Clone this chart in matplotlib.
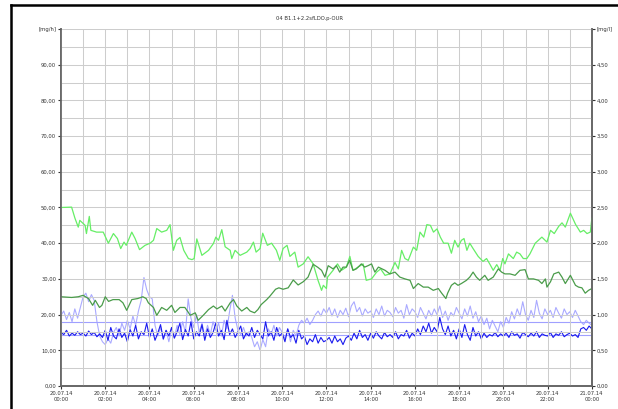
import numpy as np
import matplotlib
matplotlib.use("Agg")
from matplotlib import pyplot as plt
from matplotlib.lines import Line2D

# light green series [mg/h]
t_lg = [0.0, 0.48, 0.63, 0.78, 0.85, 1.09, 1.15, 1.28, 1.35, 1.61, 1.91, 2.14, 2.37, 2.55, 2.7, 2.85, 2.95,
        3.2, 3.35, 3.55, 3.8, 4.03, 4.18, 4.33, 4.55, 4.78, 4.93, 5.08, 5.23, 5.38, 5.55, 5.76, 5.92,
        6.02, 6.14, 6.37, 6.67, 6.89, 7.0, 7.12, 7.27, 7.42, 7.65, 7.72, 7.87, 8.1, 8.4, 8.55, 8.7, 8.82,
        9.0, 9.12, 9.33, 9.52, 9.74, 9.89, 10.04, 10.22, 10.35, 10.57, 10.72, 10.95, 11.17, 11.4, 11.62,
        11.78, 11.86, 12.0, 12.05, 12.3, 12.5, 12.68, 12.9, 13.06, 13.2, 13.43, 13.66, 13.8, 14.04, 14.27,
        14.45, 14.65, 14.87, 15.1, 15.25, 15.4, 15.55, 15.7, 15.93, 16.08, 16.23, 16.4, 16.54, 16.7, 16.84,
        17.0, 17.15, 17.3, 17.5, 17.65, 17.8, 17.95, 18.1, 18.22, 18.35, 18.48, 18.63, 18.86, 19.08, 19.24,
        19.4, 19.54, 19.7, 19.85, 19.97, 20.07, 20.23, 20.45, 20.6, 20.75, 20.9, 21.06, 21.2, 21.44, 21.74,
        21.97, 22.13, 22.3, 22.5, 22.65, 22.8, 23.03, 23.26, 23.48, 23.63, 23.78, 23.93, 24.0]
v_lg = [50.0, 50.1, 47.0, 44.5, 46.4, 45.0, 42.7, 47.5, 43.6, 43.1, 43.1, 40.0, 42.7, 41.3, 38.5, 40.3, 39.4,
        43.1, 41.3, 38.2, 39.4, 40.0, 40.8, 44.1, 43.1, 43.6, 45.2, 38.0, 40.8, 41.6, 38.0, 35.7, 35.4,
        35.7, 41.2, 36.6, 38.0, 39.9, 41.7, 40.8, 43.8, 39.0, 38.0, 35.7, 38.0, 36.6, 37.5, 38.5, 40.3, 37.5,
        38.5, 42.8, 39.4, 40.0, 38.0, 35.2, 38.5, 39.4, 36.3, 37.5, 33.3, 34.2, 36.2, 34.2, 29.6,
        26.8, 28.2, 27.3, 30.5, 32.4, 34.2, 32.4, 33.3, 36.3, 32.4, 33.3, 34.2, 29.6, 30.0, 31.9,
        32.8, 31.0, 31.4, 34.6, 32.8, 38.0, 35.7, 35.2, 38.9, 38.0, 43.1, 41.7, 45.2, 45.0, 43.1,
        44.0, 41.7, 40.0, 40.0, 37.2, 40.8, 38.9, 40.8, 41.3, 38.0, 40.0, 38.5, 36.3, 34.9, 35.7,
        34.0, 32.4, 34.0, 32.4, 35.7, 34.2, 37.0, 35.7, 37.5, 37.0, 35.7, 35.7, 37.0, 40.0, 41.7,
        40.3, 43.6, 42.7, 44.7, 45.7, 44.5, 48.4, 45.3, 43.1, 43.6, 42.7, 43.1, 47.0]

# dark green series [mg/h]
t_dg = [0.0, 0.48, 0.78, 1.0, 1.24, 1.43, 1.55, 1.74, 1.85, 2.0, 2.15, 2.35, 2.63, 2.8, 2.97, 3.2, 3.47,
        3.7, 3.85, 3.95, 4.18, 4.33, 4.55, 4.78, 5.0, 5.15, 5.38, 5.6, 5.76, 5.84, 6.07, 6.2, 6.43, 6.67,
        6.89, 7.05, 7.27, 7.42, 7.65, 7.8, 7.95, 8.17, 8.4, 8.55, 8.75, 8.9, 9.05, 9.3, 9.45, 9.7, 9.85,
        10.04, 10.27, 10.5, 10.72, 10.95, 11.17, 11.4, 11.62, 11.78, 11.93, 12.08, 12.3, 12.45, 12.6,
        12.75, 12.9, 13.05, 13.2, 13.35, 13.58, 13.73, 13.88, 14.04, 14.19, 14.35, 14.65, 14.87, 15.1,
        15.32, 15.55, 15.78, 15.93, 16.15, 16.38, 16.6, 16.83, 17.06, 17.21, 17.4, 17.48, 17.65, 17.8,
        17.95, 18.1, 18.33, 18.48, 18.63, 18.78, 18.93, 19.16, 19.31, 19.54, 19.77, 19.92, 20.07, 20.3,
        20.53, 20.75, 20.98, 21.13, 21.36, 21.59, 21.74, 21.9, 21.97, 22.13, 22.28, 22.5, 22.65, 22.8,
        23.03, 23.26, 23.4, 23.55, 23.7, 23.85, 24.0]
v_dg = [25.0, 24.8, 25.0, 25.4, 24.5, 22.6, 24.0, 22.0, 22.6, 25.0, 23.7, 24.2, 24.2, 23.3, 21.2, 24.2, 24.5,
        25.0, 24.5, 23.3, 22.0, 19.8, 22.0, 21.2, 22.6, 20.6, 22.0, 22.0, 20.6, 19.8, 20.5, 18.4, 19.8, 21.4,
        22.4, 21.6, 22.4, 21.0, 23.3, 24.2, 22.4, 21.0, 22.0, 21.0, 20.5, 21.4, 22.8, 24.2, 25.2, 27.1, 27.5,
        27.1, 27.5, 29.7, 28.3, 29.2, 30.5, 34.1, 33.2, 32.4, 30.5, 33.7, 32.8, 33.7, 31.9,
        33.3, 33.3, 35.2, 32.4, 32.8, 34.2, 33.3, 33.7, 34.2, 31.9, 33.3, 32.4, 31.4, 31.9,
        30.5, 30.0, 29.6, 27.3, 28.7, 27.7, 27.7, 26.8, 27.3, 26.0, 24.5, 26.0, 28.2, 28.9,
        28.2, 28.7, 29.6, 30.5, 31.9, 30.5, 29.6, 31.0, 29.6, 30.5, 32.8, 31.9, 31.4, 31.4,
        31.0, 32.4, 32.6, 30.0, 30.0, 29.6, 28.7, 30.0, 27.7, 29.2, 31.4, 31.9, 30.5, 28.7,
        31.0, 28.2, 27.7, 27.5, 26.0, 26.8, 27.3]

# light blue series [mg/l], every 7.5 min
lb = [0.99, 1.05, 0.93, 1.03, 0.90, 1.08, 0.95, 1.10,
      1.25, 1.30, 1.18, 1.28, 1.20, 0.90, 0.70, 0.62,
      0.58, 0.66, 0.60, 0.75, 0.82, 0.70, 0.88, 0.78,
      0.92, 0.80, 0.98, 0.85, 1.05, 1.20, 1.52, 1.35,
      1.25, 1.22, 0.85, 0.70, 0.82, 0.65, 0.78, 0.62,
      0.80, 0.68, 0.85, 0.72, 0.90, 0.75, 1.22, 0.95,
      0.82, 1.00, 0.75, 0.88, 0.70, 0.85, 0.72, 0.90,
      0.78, 0.88, 0.70, 0.92, 0.80, 1.05, 1.27, 0.95,
      0.78, 0.72, 0.82, 0.70, 0.76, 0.68, 0.55, 0.62,
      0.50, 0.65, 0.55, 0.80, 0.72, 0.85, 0.70, 0.82,
      0.75, 0.66, 0.80, 0.62, 0.78, 0.70, 0.85, 0.92,
      0.88, 0.95, 0.86, 0.92, 1.00, 1.05, 0.98, 1.08,
      1.02, 1.10, 0.98, 1.08, 0.96, 1.06, 1.00, 1.09,
      0.97, 1.12, 1.18, 1.04, 1.10, 0.98, 1.08, 1.02,
      1.05, 0.96, 1.08, 1.00, 1.12, 0.98, 1.06, 1.03,
      0.97, 1.10, 1.02, 1.06, 0.95, 1.14, 1.00, 1.08,
      1.04, 0.96, 1.10, 1.02, 0.94, 1.06, 0.98, 1.08,
      1.00, 1.12, 0.96, 1.05, 0.92, 1.03, 0.98, 1.10,
      1.02, 0.94, 1.08, 0.98, 1.12, 0.95, 1.04, 0.90,
      0.98, 0.86, 0.95, 0.80, 0.92, 0.84, 0.76, 0.90,
      0.82, 0.96, 0.88, 1.04, 0.94, 1.08, 0.98, 1.18,
      1.00, 0.92, 1.06, 0.96, 1.20, 1.02, 0.94, 1.08,
      1.00, 1.06, 0.96, 1.10, 1.02, 0.95, 1.08, 1.00,
      1.04, 0.96, 1.06, 0.98, 0.90, 0.86, 0.92, 0.88,
      0.85]

# dark blue series [mg/l], every 7.5 min
db = [0.75, 0.72, 0.78, 0.70, 0.74, 0.71, 0.76, 0.72,
      0.74, 0.70, 0.77, 0.72, 0.75, 0.69, 0.73, 0.68,
      0.78, 0.64, 0.82, 0.70, 0.66, 0.80, 0.68, 0.74,
      0.62, 0.79, 0.70, 0.85, 0.66, 0.76, 0.72, 0.88,
      0.68, 0.80, 0.64, 0.74, 0.86, 0.66, 0.78, 0.70,
      0.82, 0.67, 0.76, 0.88, 0.65, 0.79, 0.70, 0.90,
      0.66, 0.76, 0.70, 0.86, 0.64, 0.80, 0.68, 0.75,
      0.88, 0.70, 0.78, 0.65, 0.92, 0.72, 0.80, 0.68,
      0.76, 0.84, 0.66, 0.74, 0.70, 0.82, 0.68, 0.78,
      0.72, 0.66, 0.90, 0.70, 0.76, 0.64, 0.82, 0.70,
      0.74, 0.62, 0.80, 0.68, 0.72, 0.60, 0.78, 0.66,
      0.70, 0.58, 0.66, 0.62, 0.72, 0.60, 0.68, 0.62,
      0.64, 0.68, 0.60, 0.70, 0.62, 0.66, 0.58, 0.67,
      0.70, 0.64, 0.74, 0.66, 0.78, 0.68, 0.72, 0.64,
      0.74, 0.67, 0.76, 0.70, 0.66, 0.75, 0.69, 0.72,
      0.68, 0.76, 0.66, 0.72, 0.70, 0.78, 0.67, 0.74,
      0.70, 0.80, 0.72, 0.84, 0.76, 0.88, 0.74, 0.82,
      0.76, 0.96, 0.80, 0.72, 0.84, 0.70, 0.78, 0.66,
      0.80, 0.68, 0.86, 0.72, 0.64, 0.82, 0.70, 0.76,
      0.66, 0.74, 0.68, 0.72, 0.70, 0.75, 0.69, 0.73,
      0.70, 0.74, 0.68, 0.76, 0.71, 0.73, 0.67, 0.75,
      0.72, 0.69, 0.74, 0.70, 0.76, 0.68, 0.73, 0.71,
      0.70, 0.75, 0.68, 0.73, 0.71, 0.76, 0.69, 0.72,
      0.74, 0.70, 0.72, 0.68, 0.80, 0.82, 0.78, 0.84,
      0.80]

limits = [0.9, 0.72]  # [mg/l]

x_labels = ["20.07.14\n00:00", "20.07.14\n02:00", "20.07.14\n04:00", "20.07.14\n06:00",
            "20.07.14\n08:00", "20.07.14\n10:00", "20.07.14\n12:00", "20.07.14\n14:00",
            "20.07.14\n16:00", "20.07.14\n18:00", "20.07.14\n20:00", "20.07.14\n22:00",
            "21.07.14\n00:00"]
left_labels = ["0,00", "10,00", "20,00", "30,00", "40,00", "50,00", "60,00", "70,00", "80,00", "90,00", "[mg/h]"]
right_labels = ["0,00", "0,50", "1,00", "1,50", "2,00", "2,50", "3,00", "3,50", "4,00", "4,50", "[mg/l]"]

t_blue = np.arange(len(lb)) * 0.125

fig = plt.figure(figsize=(6.18, 4.09), dpi=100)
ax = fig.add_axes([0.0987, 0.0562, 0.859, 0.873])
ax2 = ax.twinx()

ax.set_xlim(0, 24)
ax.set_ylim(0, 100)
ax2.set_ylim(0, 5)

ax.set_xticks(np.arange(0, 25, 1), minor=True)
ax.set_yticks(np.arange(0, 101, 5), minor=True)
ax.grid(which='both', color='#cdcdcd', lw=0.75)
ax.set_axisbelow(True)

ax.set_xticks(np.arange(0, 25, 2))
ax.set_xticklabels(x_labels)
ax.set_yticks(np.arange(0, 101, 10))
ax.set_yticklabels(left_labels)
ax2.set_yticks(np.arange(0, 5.01, 0.5))
ax2.set_yticklabels(right_labels)

for a in (ax, ax2):
    a.tick_params(which='major', length=2.5, width=0.8, color='#333333', labelsize=3.8,
                  labelcolor='#333333', pad=1)
    a.tick_params(which='minor', length=0)
    a.spines['top'].set_visible(False)
    for s in ['left', 'right', 'bottom']:
        a.spines[s].set_color('#666666')
        a.spines[s].set_linewidth(1.2)

# lines
ax2.plot(t_blue, lb, color='#aaaaff', lw=0.8)
for lim in limits:
    ax2.axhline(lim, color='#a0a0ff', lw=0.8)
ax2.plot(t_blue, db, color='#1a1aee', lw=0.8)
ax.plot(t_lg, v_lg, color='#66ee66', lw=0.9)
ax.plot(t_dg, v_dg, color='#4a9c4a', lw=0.9)
ax.set_zorder(ax2.get_zorder() + 1)
ax.patch.set_visible(False)

fig.text(0.5, 0.955, "04 B1.1+2.2sfLDO.p-OUR", ha='center', va='center', fontsize=3.8, color='#333333')

# black frame of the screenshot
fig.add_artist(Line2D([0.017, 1.0], [0.988, 0.988], color='black', lw=1.8))
fig.add_artist(Line2D([0.017, 0.017], [0.0, 0.988], color='black', lw=1.8))

fig.savefig("out.png", dpi=100)
